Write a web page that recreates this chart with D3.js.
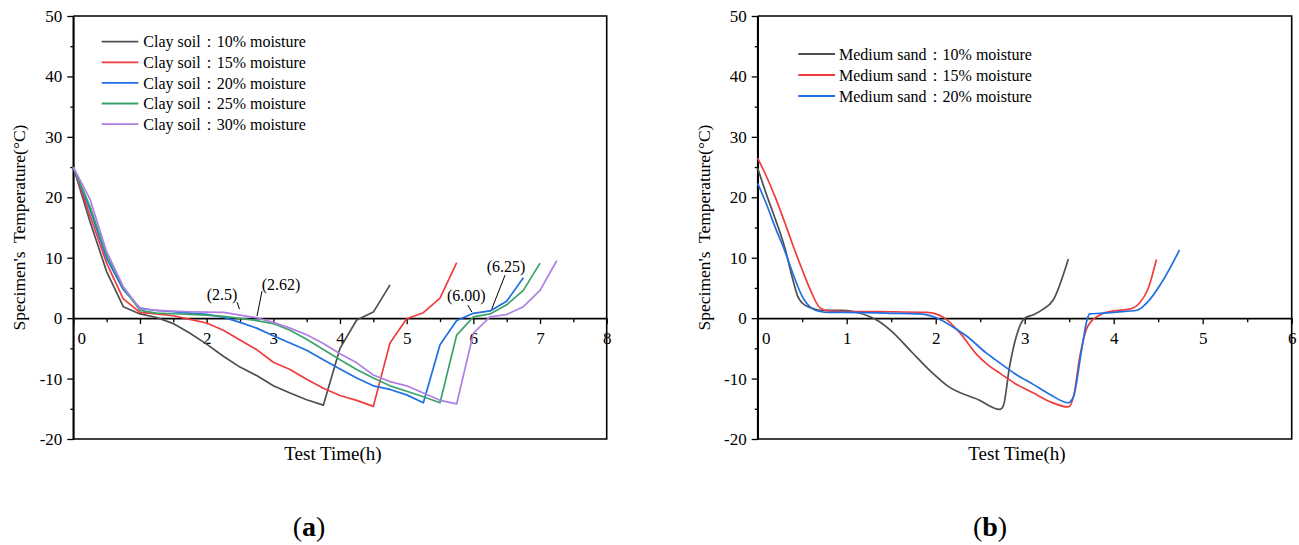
<!DOCTYPE html>
<html><head><meta charset="utf-8">
<script src="https://cdn.jsdelivr.net/npm/d3@7"></script>
<style>
html,body{margin:0;padding:0;background:#fff;}
svg text{font-family:"Liberation Serif","Times New Roman",serif !important;fill:#000;}
</style></head>
<body><svg id="chart" width="1299" height="545"></svg>
<script>
// ---------- DATA ----------
// Panel (a): clay soil, sampled every 0.25 h
const clayLabels = ["Clay soil\uFF1A10% moisture","Clay soil\uFF1A15% moisture","Clay soil\uFF1A20% moisture","Clay soil\uFF1A25% moisture","Clay soil\uFF1A30% moisture"];
const clay10 = [25,16,7.7,1.9,0.7,0.1,-0.9,-2.5,-4.3,-6.3,-8.1,-9.5,-11.2,-12.4,-13.5,-14.4,-5.0,-0.3,1.0,5.5];
const clay15 = [25,17,9.1,3.2,0.95,0.7,0.4,-0.2,-0.8,-2.0,-3.6,-5.2,-7.3,-8.5,-10.1,-11.6,-12.8,-13.6,-14.6,-4.1,-0.1,0.9,3.3,9.2];
const clay20 = [25,18,9.9,4.7,1.65,1.27,1.06,0.84,0.62,0.17,-0.7,-1.65,-2.9,-4.1,-5.3,-6.9,-8.4,-9.9,-11.2,-11.8,-12.7,-14.0,-4.4,-0.4,0.8,1.2,2.8,6.7];
const clay25 = [25,18.5,10.5,5.0,1.3,0.84,0.73,0.62,0.5,0.3,-0.05,-0.4,-0.9,-2.0,-3.5,-5.2,-6.9,-8.5,-9.9,-11.2,-12.1,-13.0,-14.0,-2.8,0.2,0.7,2.2,4.6,9.1];
const clay30 = [25,19.7,11,5.2,1.55,1.27,1.17,1.06,1.0,0.95,0.5,0.06,-0.7,-1.65,-2.75,-4.2,-5.9,-7.4,-9.4,-10.5,-11.2,-12.4,-13.6,-14.2,-2.5,0.2,0.6,1.9,4.6,9.5];
const clayStep = 0.25;

// Panel (b): medium sand (time h, temperature °C)
const sandLabels = ["Medium sand\uFF1A10% moisture","Medium sand\uFF1A15% moisture","Medium sand\uFF1A20% moisture"];
const sand10t = [0,0.1,0.2,0.3,0.4,0.45,0.5,0.6,0.7,0.95,1.13,1.25,1.36,1.5,1.73,1.95,2.14,2.48,2.72,2.76,2.83,2.93,3.0,3.1,3.2,3.32,3.49];
const sand10v = [24.8,20.4,16.3,11.9,6.1,3.6,2.5,1.7,1.3,1.3,0.9,0.3,-0.5,-2.1,-5.6,-8.9,-11.3,-13.5,-15.1,-14.5,-8.0,-1.9,0.0,0.56,1.4,3.0,9.8];
const sand15t = [0,0.1,0.2,0.3,0.4,0.5,0.6,0.7,0.8,1.0,1.5,1.9,2.0,2.1,2.27,2.46,2.6,2.72,2.89,3.1,3.28,3.49,3.55,3.62,3.71,3.85,4.0,4.18,4.29,4.39,4.48];
const sand15v = [26.5,23.4,19.9,16,11.9,8.0,4.4,1.7,1.2,1.1,1.06,0.94,0.7,0.0,-2.4,-6.0,-7.9,-9.1,-10.8,-12.4,-13.8,-14.7,-12.9,-6.3,-1.3,0.56,1.2,1.5,2.5,5.0,9.7];
const sand20t = [0,0.1,0.2,0.3,0.4,0.5,0.6,0.7,0.8,1.0,1.5,1.8,1.9,2.0,2.25,2.35,2.57,2.72,2.89,3.1,3.28,3.49,3.55,3.64,3.7,3.73,3.85,4.03,4.26,4.37,4.56,4.74];
const sand20v = [22.3,18.8,14.9,11.3,7.2,3.6,1.7,1.1,0.95,0.95,0.8,0.7,0.55,0.1,-2.0,-3.0,-5.8,-7.4,-9.2,-11.0,-12.6,-14.0,-12.9,-5.2,-0.3,0.7,0.8,1.0,1.3,2.5,6.4,11.3];

// Axis ticks
const yTicks = [-20,-10,0,10,20,30,40,50];
const xTicksA = [0,1,2,3,4,5,6,7,8];
const xTicksB = [0,1,2,3,4,5,6];

// Annotations (panel a)
const annoText = ["(2.5)","(2.62)","(6.00)","(6.25)"];

// ---------- STYLE ----------
const FONT = '"Liberation Serif","Times New Roman",serif';
const claycolors = ["#4f4f4f","#f03c3c","#1f6fe3","#3aa36a","#ae80e6"];
const sandcolors = ["#4f4f4f","#f03c3c","#1f6fe3"];

const svg = d3.select("#chart");
svg.append("rect").attr("width",1299).attr("height",545).attr("fill","#fff");

const y = d3.scaleLinear().domain([-20,50]).range([439,16]);

function drawFrame(x, xTicks, xMax, titleX, yTitleX){
  const g = svg.append("g");
  const x0 = x(0), x1 = x(xMax);
  const ya = g.append("g").attr("transform",`translate(${x0},0)`)
    .call(d3.axisLeft(y).tickValues(yTicks).tickSize(6).tickSizeOuter(0).tickPadding(5).tickFormat(d=>String(d)));
  const yminor = d3.range(-15,50,10);
  g.append("g").attr("transform",`translate(${x0},0)`)
    .call(d3.axisLeft(y).tickValues(yminor).tickSize(3).tickSizeOuter(0).tickFormat(""))
    .select(".domain").remove();
  const xa = g.append("g").attr("transform",`translate(0,${y(0)})`)
    .call(d3.axisBottom(x).tickValues(xTicks).tickSize(6).tickSizeOuter(0).tickPadding(8).tickFormat(d=>String(d)));
  xa.selectAll(".tick").filter(d=>d===0).select("text").attr("dx",8);
  const xminor = d3.range(0.5,xMax,1);
  g.append("g").attr("transform",`translate(0,${y(0)})`)
    .call(d3.axisBottom(x).tickValues(xminor).tickSize(4).tickSizeOuter(0).tickFormat(""))
    .select(".domain").remove();
  g.selectAll("g").attr("font-family",FONT).attr("font-size",17);
  g.selectAll(".tick text").style("font-family",FONT).style("font-size","17px");
  g.selectAll(".domain").attr("stroke-width",1.6);
  g.selectAll(".tick line").attr("stroke-width",1.3);
  g.append("path").attr("fill","none").attr("stroke","#000").attr("stroke-width",1.6)
    .attr("d",`M${x0},${y(50)}H${x1}V${y(-20)}H${x0}V${y(50)}`);
  g.append("text").attr("x",titleX).attr("y",460).attr("text-anchor","middle")
    .style("font-size","19px").text("Test Time(h)");
  g.append("text").attr("transform",`translate(${yTitleX},${(y(50)+y(-20))/2}) rotate(-90)`)
    .attr("text-anchor","middle").style("font-size","17.5px").style("white-space","pre")
    .text("Specimen's  Temperature(\u00B0C)");
}

// Panel (a)
const xA = d3.scaleLinear().domain([0,8]).range([73.3,606.7]);
drawFrame(xA, xTicksA, 8, 333, 25);
const claySeries = [clay10,clay15,clay20,clay25,clay30];
const lineA = d3.line().x((d,i)=>xA(i*clayStep)).y(d=>y(d));
const gA = svg.append("g");
claySeries.forEach((s,i)=>{
  gA.append("path").attr("d",lineA(s)).attr("fill","none")
    .attr("stroke",claycolors[i]).attr("stroke-width",1.7).attr("stroke-linejoin","round");
});
clayLabels.forEach((lab,i)=>{
  const yy = 41.7 + i*20.6;
  gA.append("line").attr("x1",101.7).attr("x2",138.3).attr("y1",yy).attr("y2",yy)
    .attr("stroke",claycolors[i]).attr("stroke-width",1.8);
  gA.append("text").attr("x",143.3).attr("y",yy).attr("dy","0.35em").style("font-size","16px").text(lab);
});
const annoG = svg.append("g");
function anno(txt, tx, ty, lx1, ly1, lx2, ly2){
  annoG.append("text").attr("x",tx).attr("y",ty).attr("text-anchor","middle").style("font-size","16px").text(txt);
  annoG.append("line").attr("x1",lx1).attr("y1",ly1).attr("x2",lx2).attr("y2",ly2)
    .attr("stroke","#000").attr("stroke-width",1);
}
anno(annoText[0], xA(2.5)-18, y(0)-18, xA(2.5)-3, y(0)-16, xA(2.5)-0.5, y(0)-9);
anno(annoText[1], xA(2.62)+33, y(0)-28, xA(2.62)+14, y(0)-27, xA(2.62)+9, y(0)-2);
anno(annoText[2], xA(6)-7, y(0)-17, xA(6)-5.5, y(0)-13, xA(6)-1.5, y(0)-6);
anno(annoText[3], xA(6.25)+16, y(0)-46, xA(6.25)+15, y(0)-43, xA(6.25)+1.7, y(0)-9);

// Panel (b)
const xB = d3.scaleLinear().domain([0,6]).range([757.7,1291.7]);
drawFrame(xB, xTicksB, 6, 1017, 710);
const sandT = [sand10t,sand15t,sand20t];
const sandV = [sand10v,sand15v,sand20v];
const lineB = d3.line().curve(d3.curveMonotoneX).x(d=>xB(d[0])).y(d=>y(d[1]));
const gB = svg.append("g");
sandT.forEach((ts,i)=>{
  const pts = ts.map((t,j)=>[t,sandV[i][j]]);
  gB.append("path").attr("d",lineB(pts)).attr("fill","none")
    .attr("stroke",sandcolors[i]).attr("stroke-width",1.7);
});
sandLabels.forEach((lab,i)=>{
  const yy = 54 + i*21;
  gB.append("line").attr("x1",798.3).attr("x2",835).attr("y1",yy).attr("y2",yy)
    .attr("stroke",sandcolors[i]).attr("stroke-width",1.8);
  gB.append("text").attr("x",839).attr("y",yy).attr("dy","0.35em").style("font-size","16px").text(lab);
});

function caption(cx, letter){
  const t = svg.append("text").attr("x",cx).attr("y",536).attr("text-anchor","middle").style("font-size","28px");
  t.append("tspan").text("(");
  t.append("tspan").style("font-weight","bold").text(letter);
  t.append("tspan").text(")");
}
caption(309,"a");
caption(990,"b");
</script></body></html>
